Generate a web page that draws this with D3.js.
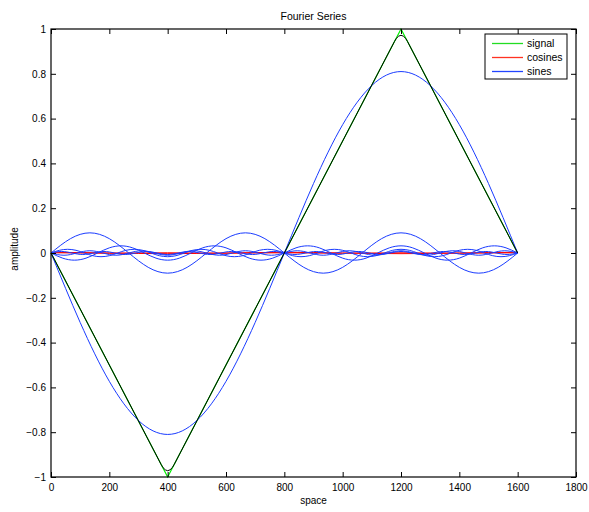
<!DOCTYPE html>
<html>
<head>
<meta charset="utf-8">
<script src="https://cdn.jsdelivr.net/npm/d3@7"></script>
<style>
  body { margin: 0; background: #fff; }
  text { font-family: "Liberation Sans", Arial, Helvetica, sans-serif; fill: #000; }
</style>
</head>
<body>
<div class="chartHolder"></div>
<script>
// tick labels
const xTicks = [0, 200, 400, 600, 800, 1000, 1200, 1400, 1600, 1800]
const yTicks = [-1, -0.8, -0.6, -0.4, -0.2, 0, 0.2, 0.4, 0.6, 0.8, 1]

// signal (triangle), x / y
const signalX = [0, 400, 800, 1200, 1600]
const signalY = [0, -1, 0, 1, 0]

// partial sum (black), rounded at the peaks
const sumX = [0, 377.6, 384, 392, 400, 408, 416, 422.4, 800, 1177.6, 1184, 1192, 1200, 1208, 1216, 1222.4, 1600]
const sumY = [0, -0.944, -0.958, -0.968, -0.972, -0.968, -0.958, -0.944, 0, 0.944, 0.958, 0.968, 0.972, 0.968, 0.958, 0.944, 0]

// sine components, samples evenly spaced over 0..1600
const sine1 = [0, -0.310, -0.573, -0.748, -0.810, -0.748, -0.573, -0.310, 0, 0.310, 0.573, 0.748, 0.810, 0.748, 0.573, 0.310, 0]
const sine3 = [0, 0.064, 0.090, 0.064, 0, -0.064, -0.090, -0.064,
  0, 0.064, 0.090, 0.064, 0, -0.064, -0.090, -0.064,
  0, 0.064, 0.090, 0.064, 0, -0.064, -0.090, -0.064, 0]
const sine5 = [0, -0.023, -0.032, -0.023, 0, 0.023, 0.032, 0.023,
  0, -0.023, -0.032, -0.023, 0, 0.023, 0.032, 0.023,
  0, -0.023, -0.032, -0.023, 0, 0.023, 0.032, 0.023,
  0, -0.023, -0.032, -0.023, 0, 0.023, 0.032, 0.023,
  0, -0.023, -0.032, -0.023, 0, 0.023, 0.032, 0.023, 0]
const sine7 = [0, 0.012, 0.0165, 0.012, 0, -0.012, -0.0165, -0.012,
  0, 0.012, 0.0165, 0.012, 0, -0.012, -0.0165, -0.012,
  0, 0.012, 0.0165, 0.012, 0, -0.012, -0.0165, -0.012,
  0, 0.012, 0.0165, 0.012, 0, -0.012, -0.0165, -0.012,
  0, 0.012, 0.0165, 0.012, 0, -0.012, -0.0165, -0.012,
  0, 0.012, 0.0165, 0.012, 0, -0.012, -0.0165, -0.012,
  0, 0.012, 0.0165, 0.012, 0, -0.012, -0.0165, -0.012, 0]
const sine9 = [0, -0.007, -0.010, -0.007, 0, 0.007, 0.010, 0.007,
  0, -0.007, -0.010, -0.007, 0, 0.007, 0.010, 0.007,
  0, -0.007, -0.010, -0.007, 0, 0.007, 0.010, 0.007,
  0, -0.007, -0.010, -0.007, 0, 0.007, 0.010, 0.007,
  0, -0.007, -0.010, -0.007, 0, 0.007, 0.010, 0.007,
  0, -0.007, -0.010, -0.007, 0, 0.007, 0.010, 0.007,
  0, -0.007, -0.010, -0.007, 0, 0.007, 0.010, 0.007,
  0, -0.007, -0.010, -0.007, 0, 0.007, 0.010, 0.007,
  0, -0.007, -0.010, -0.007, 0, 0.007, 0.010, 0.007, 0]
const sine11 = [0, 0.0047, 0.0067, 0.0047, 0, -0.0047, -0.0067, -0.0047,
  0, 0.0047, 0.0067, 0.0047, 0, -0.0047, -0.0067, -0.0047,
  0, 0.0047, 0.0067, 0.0047, 0, -0.0047, -0.0067, -0.0047,
  0, 0.0047, 0.0067, 0.0047, 0, -0.0047, -0.0067, -0.0047,
  0, 0.0047, 0.0067, 0.0047, 0, -0.0047, -0.0067, -0.0047,
  0, 0.0047, 0.0067, 0.0047, 0, -0.0047, -0.0067, -0.0047,
  0, 0.0047, 0.0067, 0.0047, 0, -0.0047, -0.0067, -0.0047,
  0, 0.0047, 0.0067, 0.0047, 0, -0.0047, -0.0067, -0.0047,
  0, 0.0047, 0.0067, 0.0047, 0, -0.0047, -0.0067, -0.0047,
  0, 0.0047, 0.0067, 0.0047, 0, -0.0047, -0.0067, -0.0047,
  0, 0.0047, 0.0067, 0.0047, 0, -0.0047, -0.0067, -0.0047, 0]
const sines = [sine1, sine3, sine5, sine7, sine9, sine11]

// cosine components (all close to zero)
const cosine2 = [0.003, 0.002, 0, -0.002, -0.003, -0.002, 0, 0.002, 0.003, 0.002, 0, -0.002, -0.003, -0.002, 0, 0.002, 0.003]
const cosine4 = [0.001, 0, -0.001, 0, 0.001, 0, -0.001, 0, 0.001, 0, -0.001, 0, 0.001, 0, -0.001, 0, 0.001]
const cosines = [cosine2, cosine4]

const spaceEnd = 1600
const legendLabels = ['signal', 'cosines', 'sines']
const legendColors = ['#22dd22', '#ff3322', '#2244ff']

const render = () => {
  const width = 589
  const height = 512
  const box = { left: 51, right: 576, top: 29, bottom: 477 }

  const svg = d3.select('.chartHolder').append('svg')
    .attr('width', width)
    .attr('height', height)

  const xScale = d3.scaleLinear().domain([0, 1800]).range([box.left, box.right])
  const yScale = d3.scaleLinear().domain([-1, 1]).range([box.bottom, box.top])

  const straight = d3.line()
    .x(d => xScale(d[0]))
    .y(d => yScale(d[1]))
  const smooth = d3.line()
    .x(d => xScale(d[0]))
    .y(d => yScale(d[1]))
    .curve(d3.curveNatural)

  const evenly = arr => arr.map((v, i) => [i * spaceEnd / (arr.length - 1), v])

  const plot = svg.append('g').attr('fill', 'none')

  // signal
  plot.append('path')
    .attr('d', straight(signalX.map((x, i) => [x, signalY[i]])))
    .attr('stroke', '#00ee00')
    .attr('stroke-width', 1.2)

  // cosines
  plot.selectAll('.cos')
    .data(cosines)
    .enter()
    .append('path')
    .attr('class', 'cos')
    .attr('d', d => smooth(evenly(d)))
    .attr('stroke', '#ff0000')
    .attr('stroke-width', 1)

  // sines
  plot.selectAll('.sin')
    .data(sines)
    .enter()
    .append('path')
    .attr('class', 'sin')
    .attr('d', d => smooth(evenly(d)))
    .attr('stroke', '#1a3cff')
    .attr('stroke-width', 1)

  // reconstruction
  plot.append('path')
    .attr('d', straight(sumX.map((x, i) => [x, sumY[i]])))
    .attr('stroke', '#000')
    .attr('stroke-width', 1)

  // axes, ticks pointing inward on all four sides
  const fmt = d => d < 0 ? '\u2212' + Math.abs(d) : String(d)
  const styleAxis = g => {
    g.select('.domain').remove()
    g.selectAll('.tick line').attr('stroke', '#000')
    g.selectAll('text').style('font-size', '10px').attr('fill', '#000')
  }
  svg.append('g')
    .attr('transform', `translate(0,${box.bottom})`)
    .call(d3.axisBottom(xScale).tickValues(xTicks).tickFormat(fmt).tickSizeInner(-5).tickSizeOuter(0).tickPadding(7))
    .call(styleAxis)
  svg.append('g')
    .attr('transform', `translate(0,${box.top})`)
    .call(d3.axisTop(xScale).tickValues(xTicks).tickFormat('').tickSizeInner(-5).tickSizeOuter(0))
    .call(styleAxis)
  svg.append('g')
    .attr('transform', `translate(${box.left},0)`)
    .call(d3.axisLeft(yScale).tickValues(yTicks).tickFormat(fmt).tickSizeInner(-5).tickSizeOuter(0).tickPadding(5))
    .call(styleAxis)
  svg.append('g')
    .attr('transform', `translate(${box.right},0)`)
    .call(d3.axisRight(yScale).tickValues(yTicks).tickFormat('').tickSizeInner(-5).tickSizeOuter(0))
    .call(styleAxis)

  svg.append('rect')
    .attr('x', box.left)
    .attr('y', box.top)
    .attr('width', box.right - box.left)
    .attr('height', box.bottom - box.top)
    .attr('fill', 'none')
    .attr('stroke', '#000')
    .attr('stroke-width', 1.2)

  // titles
  svg.append('text')
    .attr('x', (box.left + box.right) / 2)
    .attr('y', 20)
    .attr('text-anchor', 'middle')
    .style('font-size', '10.5px')
    .text('Fourier Series')
  svg.append('text')
    .attr('x', (box.left + box.right) / 2)
    .attr('y', 504)
    .attr('text-anchor', 'middle')
    .style('font-size', '10px')
    .text('space')
  svg.append('text')
    .attr('transform', `translate(18,249) rotate(-90)`)
    .attr('text-anchor', 'middle')
    .style('font-size', '10px')
    .text('amplitude')

  // legend
  const legend = svg.append('g').attr('transform', 'translate(485,34)')
  legend.append('rect')
    .attr('width', 82)
    .attr('height', 45)
    .attr('fill', '#fff')
    .attr('stroke', '#000')
    .attr('stroke-width', 1)
  const rows = legend.selectAll('.entry')
    .data(legendLabels)
    .enter()
    .append('g')
    .attr('class', 'entry')
    .attr('transform', (d, i) => `translate(0,${9.5 + i * 14})`)
  rows.append('path')
    .attr('d', 'M7,0H38')
    .attr('fill', 'none')
    .style('stroke', (d, i) => legendColors[i])
    .style('stroke-width', '1.3px')
  rows.append('text')
    .attr('x', 42)
    .attr('y', 3.6)
    .style('font-size', '10.5px')
    .text(d => d)
}

render()
</script>
</body>
</html>
